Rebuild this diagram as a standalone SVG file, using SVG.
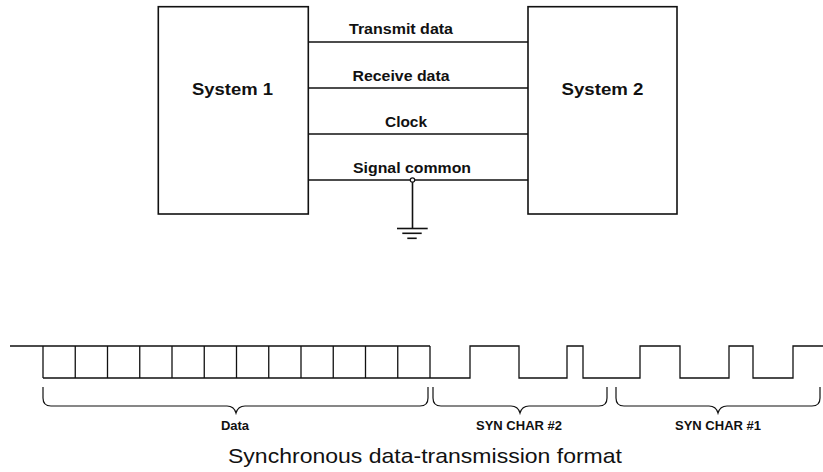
<svg xmlns="http://www.w3.org/2000/svg" width="823" height="472" viewBox="0 0 823 472">
  <style>
    .box { fill: #ffffff; stroke: #111111; stroke-width: 1.6; }
    .wire { fill: none; stroke: #111111; stroke-width: 1.6; }
    .wave { fill: none; stroke: #111111; stroke-width: 1.3; }
    .brace { fill: none; stroke: #111111; stroke-width: 1.2; }
    .lbl { font-family: "Liberation Sans", Arial, sans-serif; font-weight: bold; fill: #111111; text-anchor: middle; }
    .sys { font-size: 17px; }
    .sig { font-size: 14px; }
    .small { font-size: 13px; }
    .caption { font-family: "Liberation Sans", Arial, sans-serif; font-size: 21px; fill: #111111; text-anchor: middle; }
  </style>

  <!-- Systems -->
  <g id="system1">
    <rect class="box" x="158.3" y="6.7" width="150" height="207.3"/>
    <text class="lbl sys" x="232.5" y="95" textLength="81" lengthAdjust="spacingAndGlyphs">System 1</text>
  </g>
  <g id="system2">
    <rect class="box" x="528" y="6.7" width="149" height="207.3"/>
    <text class="lbl sys" x="602.5" y="95" textLength="82" lengthAdjust="spacingAndGlyphs">System 2</text>
  </g>

  <!-- Interface lines between the systems -->
  <g id="connectors">
    <line class="wire" x1="308.3" y1="42" x2="528" y2="42"/>
    <line class="wire" x1="308.3" y1="88" x2="528" y2="88"/>
    <line class="wire" x1="308.3" y1="134" x2="528" y2="134"/>
    <line class="wire" x1="308.3" y1="180" x2="528" y2="180"/>
    <text class="lbl sig" x="401" y="34" textLength="104" lengthAdjust="spacingAndGlyphs">Transmit data</text>
    <text class="lbl sig" x="401" y="81" textLength="97" lengthAdjust="spacingAndGlyphs">Receive data</text>
    <text class="lbl sig" x="406" y="127" textLength="42" lengthAdjust="spacingAndGlyphs">Clock</text>
    <text class="lbl sig" x="412" y="173" textLength="118" lengthAdjust="spacingAndGlyphs">Signal common</text>
  </g>

  <!-- Ground connection on signal common -->
  <g id="ground">
    <line class="wire" x1="412.5" y1="180" x2="412.5" y2="228.5"/>
    <line class="wire" x1="397" y1="228.5" x2="427.7" y2="228.5"/>
    <line class="wire" x1="402.3" y1="233.3" x2="421.7" y2="233.3"/>
    <line class="wire" x1="407.3" y1="238.3" x2="416.7" y2="238.3" stroke-width="2"/>
    <circle cx="412.5" cy="180" r="2.2" fill="#ffffff" stroke="#111111" stroke-width="1.2"/>
  </g>

  <!-- Data bit cells -->
  <g id="data-cells">
    <path class="wave" d="M10,346 H43 M43,346 H430 M43,378 H430"/>
    <path class="wave" d="M43,346 V378 M75.25,346 V378 M107.5,346 V378 M139.75,346 V378 M172,346 V378 M204.25,346 V378 M236.5,346 V378 M268.75,346 V378 M301,346 V378 M333.25,346 V378 M365.5,346 V378 M397.75,346 V378 M430,346 V378"/>
  </g>

  <!-- SYN character waveform -->
  <g id="syn-wave">
    <path class="wave" d="M430,378 H470 V346 H519 V378 H567 V346 H583 V378 H640 V346 H680 V378 H729 V346 H753 V378 H793 V346 H823"/>
  </g>

  <!-- Braces and field labels -->
  <g id="data-field">
    <path class="brace" d="M43,387 V398 Q43,406 51,406 H227 Q234,406 236,413 Q238,406 245,406 H420 Q428,406 428,398 V387"/>
    <text class="lbl small" x="235" y="430">Data</text>
  </g>
  <g id="syn2-field">
    <path class="brace" d="M433,387 V398 Q433,406 441,406 H511 Q518,406 520,413 Q522,406 529,406 H599 Q607,406 607,398 V387"/>
    <text class="lbl small" x="519" y="430">SYN CHAR #2</text>
  </g>
  <g id="syn1-field">
    <path class="brace" d="M616,387 V398 Q616,406 624,406 H709 Q716,406 718,413 Q720,406 727,406 H812 Q820,406 820,398 V387"/>
    <text class="lbl small" x="718" y="430">SYN CHAR #1</text>
  </g>

  <text class="caption" x="425" y="463" textLength="394" lengthAdjust="spacingAndGlyphs">Synchronous data-transmission format</text>
</svg>
